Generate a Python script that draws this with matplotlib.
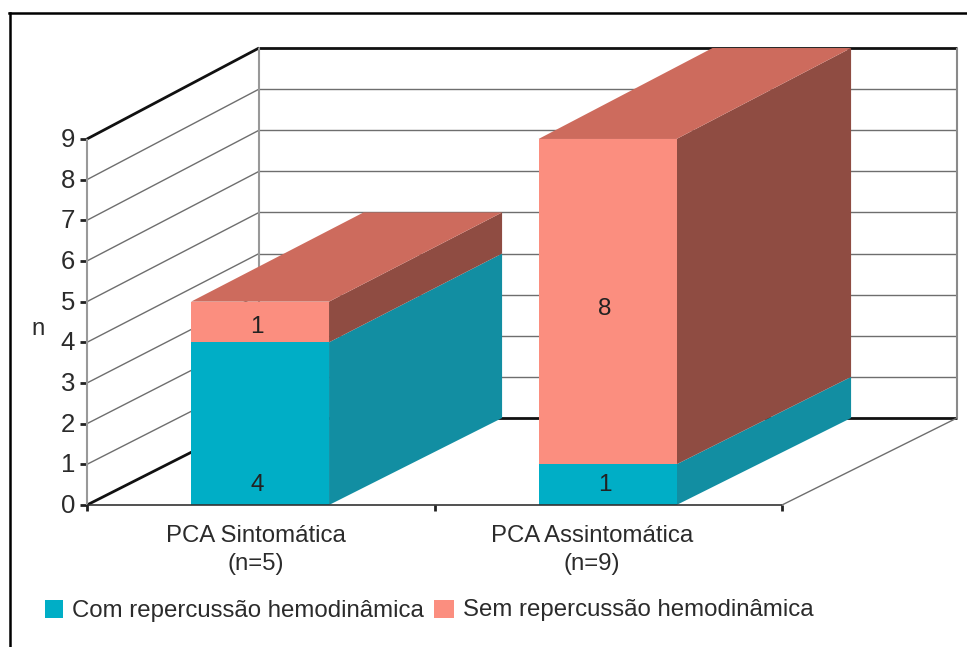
import matplotlib
matplotlib.use("Agg")
import matplotlib.pyplot as plt
from matplotlib.patches import Polygon, Rectangle

plt.rcParams["font.family"] = ["Liberation Sans", "DejaVu Sans"]

categories = ["PCA Sintomática\n(n=5)", "PCA Assintomática\n(n=9)"]
com_repercussao = [4, 1]
sem_repercussao = [1, 8]
series_names = ["Com repercussão hemodinâmica", "Sem repercussão hemodinâmica"]
y_ticks = list(range(0, 10))

# figure is laid out in pixels of the reference, y pointing down
X0, Y0 = 87, 505
CAT_W = 347.5
UNIT = 40.67
BAR_W = 0.397
TEXT = "#2b2b2b"
GRID = "#6e6e6e"
TEAL = {"front": "#00aec6", "side": "#128ea2"}
SALMON = {"front": "#fb8e7f", "side": "#8f4c42", "top": "#cd6b5d"}


def proj(cat, val, depth=0.0):
    # cat in category units, val in chart units, depth 0 (front) to 1 (back)
    x = X0 + cat * CAT_W + depth * (172 + 1.5 * cat)
    y = Y0 - depth * 87 - val * (UNIT + 0.44 * depth)
    return x, y


fig = plt.figure(figsize=(9.67, 6.47), dpi=100)
ax = fig.add_axes([0, 0, 1, 1])
ax.set_xlim(0, 967)
ax.set_ylim(647, 0)
ax.axis("off")


def line(p, q, color=GRID, lw=1.0, z=1):
    ax.plot([p[0], q[0]], [p[1], q[1]], color=color, lw=lw, zorder=z,
            solid_capstyle="butt")


# walls
for v in y_ticks:
    heavy = v in (0, 9)
    color = "#111111" if heavy else GRID
    lw = 2.0 if heavy else 1.0
    line(proj(0, v), proj(0, v, 1), color, lw)
    line(proj(0, v, 1), proj(2, v, 1), color, lw)
    line((X0 - 7, proj(0, v)[1]), proj(0, v), "#222222", 2.0)
    ax.text(75, proj(0, v)[1] + 1, str(v), ha="right", va="center",
            fontsize=18.5, color=TEXT)

line(proj(0, 0), proj(0, 9), "#999999", 1.5)
line(proj(0, 0, 1), proj(0, 9, 1), "#999999", 1.5)
line(proj(2, 0, 1), proj(2, 9, 1), "#8a8a8a", 1.5)
line(proj(2, 0), proj(2, 0, 1), GRID, 1.0)
line(proj(0, 0), proj(2, 0), "#333333", 1.2, 5)
for c in range(3):
    x, y = proj(c, 0)
    line((x, y), (x, y + 6), "#222222", 2.0, 5)


def draw_segment(i, bottom, height, colors, with_top=False):
    left = i + 0.498 - BAR_W / 2
    right = i + 0.498 + BAR_W / 2
    top = bottom + height
    ax.add_patch(Polygon([proj(right, bottom), proj(right, bottom, 1),
                          proj(right, top, 1), proj(right, top)],
                         fc=colors["side"], ec="none", zorder=3))
    ax.add_patch(Polygon([proj(left, bottom), proj(right, bottom),
                          proj(right, top), proj(left, top)],
                         fc=colors["front"], ec="none", zorder=4))
    if with_top:
        ax.add_patch(Polygon([proj(left, top), proj(right, top),
                              proj(right, top, 1), proj(left, top, 1)],
                             fc=colors["top"], ec="none", zorder=3))


# value labels sit low in the teal segments, as in the original
label_heights = [[0.5, 4.38], [0.5, 4.84]]

for i, name in enumerate(categories):
    draw_segment(i, 0, com_repercussao[i], TEAL)
    draw_segment(i, com_repercussao[i], sem_repercussao[i], SALMON, True)
    x, _ = proj(i + 0.49, 0)
    for val, h in zip([com_repercussao[i], sem_repercussao[i]], label_heights[i]):
        ax.text(x, proj(0, h)[1] + 0.5, str(val), ha="center", va="center",
                fontsize=17.5, color="#222222", zorder=6)

ax.text(256, 550, categories[0], ha="center", va="center", fontsize=17.3,
        color=TEXT, linespacing=1.38)
ax.text(592, 550, categories[1], ha="center", va="center", fontsize=17.3,
        color=TEXT, linespacing=1.38)
ax.text(38, 329, "n", ha="center", va="center", fontsize=17.3, color=TEXT)

# legend
ax.add_patch(Rectangle((45, 600), 18, 18, fc=TEAL["front"], ec="none"))
ax.text(72, 611, series_names[0], ha="left", va="center", fontsize=17.3, color=TEXT)
ax.add_patch(Rectangle((434, 600), 20, 18, fc=SALMON["front"], ec="none"))
ax.text(463, 610, series_names[1], ha="left", va="center", fontsize=17.3, color=TEXT)

# outer frame, open at the bottom and running off the right edge
ax.plot([10, 10], [647, 13], color="black", lw=1.8)
ax.plot([9, 967], [13, 13], color="black", lw=1.8)

fig.savefig("out.png", dpi=100)
